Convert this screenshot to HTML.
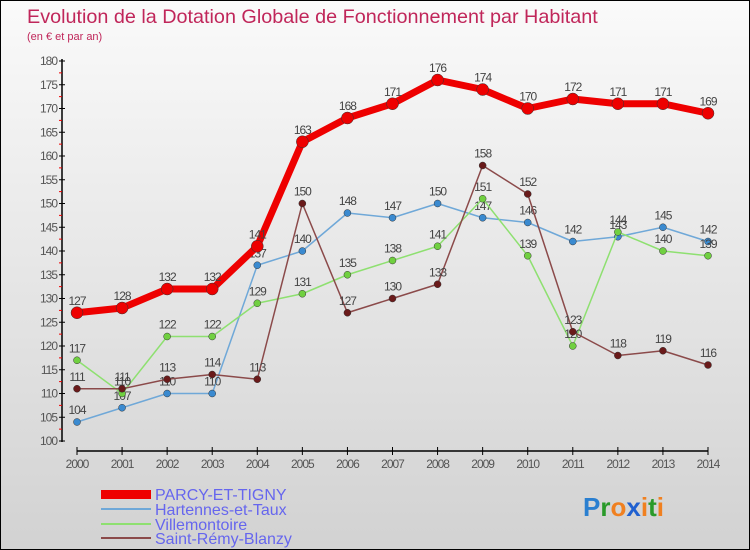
<!DOCTYPE html>
<html><head><meta charset="utf-8"><style>
body{margin:0}
#c{width:750px;height:550px;position:relative;box-sizing:border-box;border:1px solid #000;background:linear-gradient(#fafafa,#d2d2d2);font-family:"Liberation Sans",sans-serif;overflow:hidden}
svg text{font-family:"Liberation Sans",sans-serif}
</style></head><body>
<div id="c">
<svg id="s" width="750" height="550" style="position:absolute;left:0;top:0">
<text x="26" y="22" font-size="19.8" fill="#c0265a">Evolution de la Dotation Globale de Fonctionnement par Habitant</text>
<text x="26" y="39" font-size="11" fill="#c0265a">(en € et par an)</text>
<g id="axes"></g><g id="series"></g>
<g>
<rect x="100" y="489" width="50" height="9" fill="#e00"/>
<text x="154" y="499" font-size="16" fill="#6666ee">PARCY-ET-TIGNY</text>
<line x1="100" y1="508" x2="150" y2="508" stroke="#6fa8d8" stroke-width="2"/>
<text x="154" y="514" font-size="16" fill="#6666ee">Hartennes-et-Taux</text>
<line x1="100" y1="523" x2="150" y2="523" stroke="#8ee070" stroke-width="2"/>
<text x="154" y="529" font-size="16" fill="#6666ee">Villemontoire</text>
<line x1="100" y1="537" x2="150" y2="537" stroke="#8b4a4a" stroke-width="2"/>
<text x="154" y="543" font-size="16" fill="#6666ee">Saint-Rémy-Blanzy</text>
</g>
<text x="582" y="515" font-size="26" font-weight="bold"><tspan fill="#2a7fd0">P</tspan><tspan fill="#2a9a2a">r</tspan><tspan fill="#f08020">o</tspan><tspan fill="#2060d0">x</tspan><tspan fill="#f08020">i</tspan><tspan fill="#2a9a2a">t</tspan><tspan fill="#f08020">i</tspan></text>
</svg>
</div>
<script>
const years=[2000,2001,2002,2003,2004,2005,2006,2007,2008,2009,2010,2011,2012,2013,2014];
const parcy=[127,128,132,132,141,163,168,171,176,174,170,172,171,171,169];
const hartennes=[104,107,110,110,137,140,148,147,150,147,146,142,143,145,142];
const villemontoire=[117,110,122,122,129,131,135,138,141,151,139,120,144,140,139];
const saintRemy=[111,111,113,114,113,150,127,130,133,158,152,123,118,119,116];
const yTicks=[100,105,110,115,120,125,130,135,140,145,150,155,160,165,170,175,180];
const NS="http://www.w3.org/2000/svg";
const xs=i=>76+i*(707-76)/14;
const ys=v=>440-(v-100)*4.75;
function mk(t,a,p){const e=document.createElementNS(NS,t);for(const k in a)e.setAttribute(k,a[k]);p.appendChild(e);return e;}
const ax=document.getElementById('axes');
const ya=mk('line',{x1:61,y1:58,x2:61,y2:441,stroke:'#000','stroke-width':1.5},ax);


yTicks.forEach((v,k)=>{
 mk('line',{x1:58,y1:ys(v),x2:64,y2:ys(v),stroke:'#000'},ax);
 if(k<yTicks.length-1) mk('line',{x1:58,y1:ys(v+2.5),x2:61,y2:ys(v+2.5),stroke:'#e00'},ax);
 const t=mk('text',{x:56,y:ys(v)+4,'font-size':12,'text-anchor':'end',fill:'#555','letter-spacing':'-1'},ax);t.textContent=v;
 
 
});
const xa=mk('line',{x1:xs(0),y1:450,x2:xs(14),y2:450,stroke:'#000','stroke-width':1.5},ax);


years.forEach((y,i)=>{
 mk('line',{x1:xs(i),y1:446,x2:xs(i),y2:454,stroke:'#000'},ax);
 const t=mk('text',{x:xs(i),y:467,'font-size':12,'text-anchor':'middle',fill:'#555','letter-spacing':'-1'},ax);t.textContent=y;
 
 
});
const sg=document.getElementById('series');
function draw(d,name,col,dot,w,r){
 const g=mk('g',{},sg);
 
 
 mk('polyline',{points:d.map((v,i)=>xs(i)+','+ys(v)).join(' '),fill:'none',stroke:col,'stroke-width':w,'stroke-linejoin':'round'},g);
 d.forEach((v,i)=>{
  const c=mk('circle',{cx:xs(i),cy:ys(v),r:r,fill:dot,stroke:'#333','stroke-width':0.5},g);
  
  
  const t=mk('text',{x:xs(i),y:ys(v)-8,'font-size':12,'text-anchor':'middle',fill:'#444','letter-spacing':'-1'},g);t.textContent=v;
  
  
 });
}
draw(hartennes,'series-hartennes','#6fa8d8','#3a8ad0',1.5,3.5);
draw(villemontoire,'series-villemontoire','#8ee070','#70d040',1.5,3.5);
draw(saintRemy,'series-saint-remy','#8b4a4a','#6a1a1a',1.5,3.5);
draw(parcy,'series-parcy','#e00','#e00',7,6);
</script>
</body></html>
